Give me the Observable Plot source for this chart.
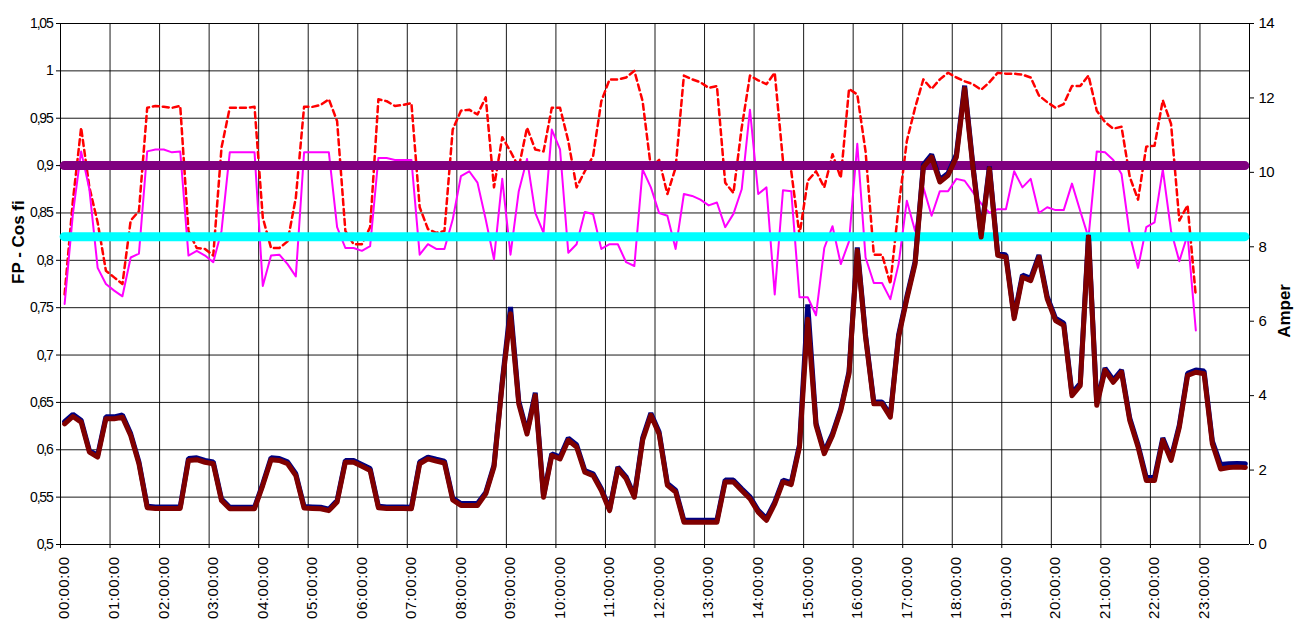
<!DOCTYPE html>
<html><head><meta charset="utf-8">
<script src="https://cdn.jsdelivr.net/npm/d3@7"></script>
<script src="https://cdn.jsdelivr.net/npm/@observablehq/plot@0.6"></script>
<style>body{margin:0;background:#fff}</style>
</head><body><div id="chart"></div>
<script>
// Time categories: 10-minute samples, labelled every hour
const hourLabels = ["00:00:00","01:00:00","02:00:00","03:00:00","04:00:00","05:00:00","06:00:00","07:00:00",
  "08:00:00","09:00:00","10:00:00","11:00:00","12:00:00","13:00:00","14:00:00","15:00:00",
  "16:00:00","17:00:00","18:00:00","19:00:00","20:00:00","21:00:00","22:00:00","23:00:00"];
const samplesPerHour = 6;
const fpTicks = [0.5,0.55,0.6,0.65,0.7,0.75,0.8,0.85,0.9,0.95,1,1.05];
const ampTicks = [0,2,4,6,8,10,12,14];
const fpLimitHigh = 0.9;
const fpLimitLow = 0.825;

// FP (cos fi) series - red dashed
const cosFiRed = [0.764,0.863,0.940,0.877,0.840,0.789,0.782,0.775,0.842,0.852,0.961,0.963,0.962,0.961,0.963,0.831,0.813,0.812,0.805,0.919,
0.961,0.961,0.961,0.962,0.845,0.813,0.813,0.820,0.866,0.962,0.962,0.964,0.970,0.947,0.831,0.817,0.817,0.835,0.970,0.968,
0.963,0.964,0.966,0.856,0.833,0.829,0.831,0.938,0.958,0.959,0.954,0.972,0.877,0.930,0.915,0.898,0.940,0.917,0.915,0.961,
0.961,0.926,0.877,0.894,0.910,0.968,0.991,0.991,0.993,1.000,0.968,0.898,0.906,0.870,0.898,0.995,0.991,0.988,0.982,0.984,
0.882,0.871,0.940,0.995,0.990,0.986,0.998,0.905,0.894,0.827,0.884,0.894,0.877,0.912,0.887,0.981,0.975,0.915,0.806,0.806,
0.775,0.856,0.926,0.961,0.991,0.981,0.991,0.998,0.993,0.989,0.986,0.980,0.988,0.998,0.997,0.997,0.996,0.993,0.974,0.967,
0.961,0.965,0.984,0.984,0.995,0.958,0.946,0.939,0.941,0.888,0.864,0.920,0.921,0.969,0.944,0.842,0.858,0.762];

// FP (cos fi) series - magenta
const cosFiMagenta = [0.754,0.849,0.915,0.875,0.792,0.775,0.768,0.762,0.803,0.807,0.915,0.917,0.917,0.914,0.915,0.805,0.810,0.805,0.798,0.831,
0.914,0.914,0.914,0.914,0.773,0.805,0.806,0.796,0.783,0.914,0.914,0.914,0.914,0.835,0.813,0.813,0.810,0.815,0.908,0.908,
0.906,0.906,0.906,0.806,0.817,0.812,0.812,0.843,0.889,0.894,0.882,0.843,0.801,0.886,0.806,0.873,0.907,0.850,0.829,0.938,
0.917,0.808,0.817,0.851,0.849,0.812,0.817,0.817,0.798,0.794,0.896,0.877,0.850,0.847,0.812,0.870,0.868,0.864,0.858,0.861,
0.835,0.849,0.875,0.959,0.870,0.877,0.764,0.874,0.873,0.761,0.761,0.742,0.813,0.836,0.796,0.820,0.923,0.803,0.776,0.776,
0.759,0.796,0.863,0.831,0.877,0.847,0.873,0.873,0.886,0.884,0.872,0.860,0.850,0.854,0.854,0.894,0.877,0.886,0.850,0.856,
0.853,0.853,0.881,0.852,0.824,0.915,0.914,0.906,0.891,0.827,0.792,0.835,0.840,0.896,0.831,0.799,0.827,0.726];

// Current (A) - navy
const ampNavy = [3.30,3.50,3.34,2.52,2.40,3.43,3.43,3.48,2.98,2.22,1.03,1.01,1.01,1.01,1.01,2.31,2.33,2.26,2.22,1.22,
1.00,1.00,1.00,1.00,1.63,2.33,2.31,2.22,1.90,1.02,1.01,1.00,0.95,1.18,2.26,2.26,2.15,2.04,1.03,1.01,
1.01,1.01,1.00,2.22,2.35,2.29,2.24,1.25,1.10,1.10,1.10,1.40,2.13,4.38,6.38,3.85,3.02,4.08,1.31,2.44,
2.35,2.86,2.68,1.99,1.90,1.50,0.95,2.08,1.82,1.31,2.86,3.53,3.02,1.64,1.46,0.65,0.65,0.65,0.65,0.65,
1.73,1.73,1.50,1.28,0.92,0.70,1.14,1.73,1.66,2.68,6.45,3.26,2.49,2.98,3.65,4.65,7.98,5.63,3.83,3.83,
3.47,5.63,6.66,7.60,10.20,10.48,9.80,9.98,10.48,12.33,10.20,8.32,10.16,7.83,7.78,6.13,7.24,7.15,7.78,6.66,
6.08,5.95,4.06,4.33,8.32,3.80,4.74,4.42,4.69,3.39,2.68,1.80,1.80,2.86,2.32,3.21,4.60,4.69,4.66,2.78,
2.15,2.17,2.18,2.17];

// Current (A) - maroon
const ampMaroon = [3.24,3.44,3.29,2.48,2.35,3.38,3.38,3.42,2.93,2.17,0.99,0.97,0.97,0.97,0.97,2.26,2.28,2.21,2.17,1.18,
0.96,0.96,0.96,0.96,1.59,2.28,2.26,2.17,1.85,0.98,0.97,0.96,0.91,1.14,2.21,2.21,2.10,1.99,0.99,0.97,
0.97,0.97,0.96,2.17,2.30,2.24,2.19,1.20,1.05,1.05,1.05,1.36,2.08,4.32,6.20,3.78,2.97,4.00,1.27,2.39,
2.30,2.80,2.62,1.94,1.85,1.45,0.91,2.03,1.77,1.27,2.80,3.47,2.97,1.59,1.41,0.60,0.60,0.60,0.60,0.60,
1.68,1.68,1.45,1.23,0.87,0.65,1.09,1.68,1.61,2.62,6.05,3.20,2.44,2.93,3.60,4.59,7.90,5.57,3.78,3.78,
3.42,5.57,6.60,7.54,10.14,10.41,9.74,9.92,10.41,12.25,10.14,8.26,10.10,7.77,7.72,6.07,7.18,7.09,7.72,6.60,
6.02,5.89,4.00,4.27,8.26,3.74,4.68,4.36,4.63,3.33,2.62,1.72,1.72,2.80,2.26,3.15,4.54,4.63,4.59,2.71,
2.03,2.07,2.08,2.07];

const fpMin = fpTicks[0], fpMax = fpTicks[fpTicks.length - 1];
const ampMax = ampTicks[ampTicks.length - 1];
const ampToFp = a => fpMin + a * (fpMax - fpMin) / ampMax;
const fpToAmp = f => (f - fpMin) * ampMax / (fpMax - fpMin);

const nCat = hourLabels.length * samplesPerHour;
const redRows = cosFiRed.map((v, i) => ({i, v}));
const magRows = cosFiMagenta.map((v, i) => ({i, v}));
const navyRows = ampNavy.map((v, i) => ({i, v: ampToFp(v)}));
const maroonRows = ampMaroon.map((v, i) => ({i, v: ampToFp(v)}));
const hourBounds = hourLabels.map((_, h) => h * samplesPerHour - 0.5);
const hourCenters = hourLabels.map((_, h) => h * samplesPerHour);
const fmtFp = d => String(+d.toFixed(2)).replace(".", ",");

const chart = Plot.plot({
  width: 1294,
  height: 622,
  marginLeft: 60,
  marginRight: 45,
  marginTop: 23,
  marginBottom: 78,
  style: {fontFamily: "'Liberation Sans', Arial, sans-serif", fontSize: "14px", background: "#fff", color: "#000"},
  x: {domain: [-0.5, nCat - 0.5], axis: null},
  y: {domain: [fpMin, fpMax], axis: null},
  marks: [
    Plot.gridY(fpTicks, {stroke: "#000", strokeOpacity: 0.9, strokeWidth: 1}),
    Plot.gridX(hourBounds.slice(1), {stroke: "#000", strokeOpacity: 0.9, strokeWidth: 1}),
    Plot.ruleX([hourBounds[0], nCat - 0.5], {stroke: "#000", strokeWidth: 1}),
    Plot.ruleY([fpMin, fpMax], {stroke: "#000", strokeWidth: 1}),
    Plot.line(redRows, {x: "i", y: "v", stroke: "#FF0000", strokeWidth: 2.5, strokeDasharray: "6,4"}),
    Plot.line(magRows, {x: "i", y: "v", stroke: "#FF00FF", strokeWidth: 2}),
    Plot.ruleY([fpLimitHigh], {x1: 0, x2: nCat - 1, stroke: "#800080", strokeWidth: 9, strokeLinecap: "round"}),
    Plot.ruleY([fpLimitLow], {x1: 0, x2: nCat - 1, stroke: "#00FFFF", strokeWidth: 9, strokeLinecap: "round"}),
    Plot.line(navyRows, {x: "i", y: "v", stroke: "#000080", strokeWidth: 5, strokeLinejoin: "miter"}),
    Plot.line(maroonRows, {x: "i", y: "v", stroke: "#800000", strokeWidth: 5, strokeLinejoin: "round"}),
    Plot.axisY({anchor: "left", ticks: fpTicks, tickFormat: fmtFp, tickSize: 4, tickPadding: 4, label: null, fontSize: 14}),
    Plot.axisY({anchor: "right", ticks: ampTicks.map(ampToFp), tickFormat: d => String(Math.round(fpToAmp(d))), tickSize: 4, tickPadding: 5, label: null, fontSize: 15}),
    Plot.axisX({ticks: hourBounds, tickSize: 4, tickFormat: () => "", label: null}),
    Plot.axisX({ticks: hourCenters, tickSize: 0, tickPadding: 12, tickRotate: -90, tickFormat: (d) => hourLabels[Math.round(d / samplesPerHour)], label: null, fontSize: 15}),
    Plot.text(["FP - Cos fi"], {frameAnchor: "left", dx: -42, rotate: -90, fontWeight: "bold", fontSize: 17}),
    Plot.text(["Amper"], {frameAnchor: "right", dx: 35, rotate: -90, fontWeight: "bold", fontSize: 17})
  ]
});
document.getElementById("chart").appendChild(chart);
const yLabelGroups = chart.querySelectorAll('g[aria-label="y-axis tick label"]');
if (yLabelGroups[0]) yLabelGroups[0].setAttribute("letter-spacing", "-1.2");
if (yLabelGroups[1]) yLabelGroups[1].setAttribute("letter-spacing", "-0.6");
const xLabelGroups = chart.querySelectorAll('g[aria-label="x-axis tick label"]');
xLabelGroups.forEach(g => g.setAttribute("letter-spacing", "0.5"));
</script>
</body></html>
